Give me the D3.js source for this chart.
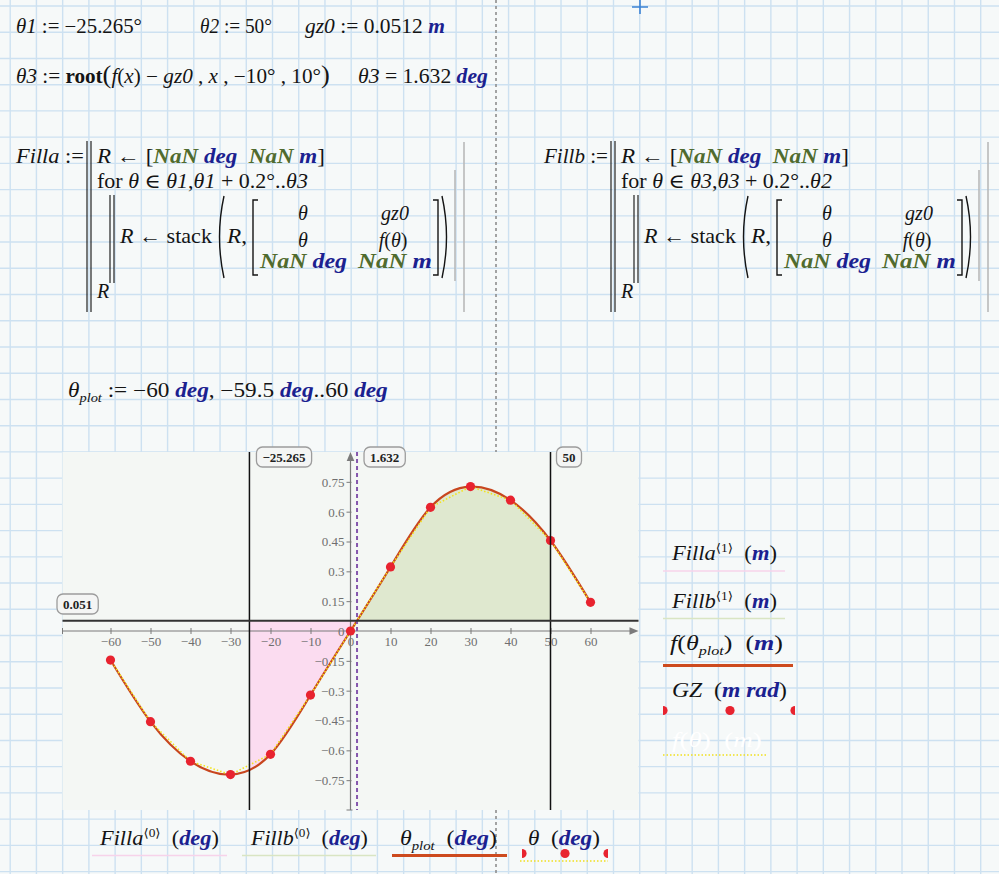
<!DOCTYPE html>
<html><head><meta charset="utf-8">
<script src="https://cdn.jsdelivr.net/npm/d3@7"></script>
<style>
html,body{margin:0;padding:0;background:#f6f9f9;}
svg{display:block;}
text{white-space:pre;font-family:'Liberation Serif','DejaVu Serif','Times New Roman',serif;}
</style></head><body>
<svg id="c" width="999" height="874"></svg>
<script>
// ---------------- data ----------------
const theta1 = -25.265, theta2 = 50, theta3 = 1.632, gz0 = 0.0512;
const gzTheta = [-60, -50, -40, -30, -20, -10, 0, 10, 20, 30, 40, 50, 60];
const gzValue = [-0.146, -0.456, -0.655, -0.722, -0.62, -0.322, 0.0, 0.322, 0.622, 0.726, 0.658, 0.455, 0.144];
const xTicks = [-60, -50, -40, -30, -20, -10, 0, 10, 20, 30, 40, 50, 60];
const xTickLabels = ['−60', '−50', '−40', '−30', '−20', '−10', '0', '10', '20', '30', '40', '50', '60'];
const yTicks = [-0.75, -0.6, -0.45, -0.3, -0.15, 0, 0.15, 0.3, 0.45, 0.6, 0.75];
const yTickLabels = ['−0.75', '−0.6', '−0.45', '−0.3', '−0.15', '0', '0.15', '0.3', '0.45', '0.6', '0.75'];
const xDomain = [-72, 72], yDomain = [-0.9, 0.9];
const markerLabels = ['−25.265', '1.632', '50'];
const gzLabel = '0.051';

// ---------------- page ----------------
const svg = d3.select('#c');
svg.append('rect').attr('width', 999).attr('height', 874).attr('fill', '#f6f9f9');
const grid = svg.append('g').attr('stroke', '#cde1f1').attr('stroke-width', 1.4);
for (let gx = 10.2; gx < 999; gx += 26.23) grid.append('line').attr('x1', gx).attr('x2', gx).attr('y1', 0).attr('y2', 874);
for (let gy = 6; gy < 874; gy += 26.23) grid.append('line').attr('y1', gy).attr('y2', gy).attr('x1', 0).attr('x2', 999);
// page divider
svg.append('line').attr('x1', 496).attr('x2', 496).attr('y1', 0).attr('y2', 874)
  .attr('stroke', '#8e8e8e').attr('stroke-width', 1.6).attr('stroke-dasharray', '3,3');
// cursor cross
svg.append('path').attr('d', 'M632,7H648M640,0V14').attr('stroke', '#3b82d4').attr('stroke-width', 1.6).attr('fill', 'none');

// ---------------- math text helper ----------------
const FS = 20;
const FONT = "'Liberation Serif','DejaVu Serif','Times New Roman',serif";
const sty = {
  v: {fs: 'italic', fw: 'normal', fill: '#141414'},
  n: {fs: 'normal', fw: 'normal', fill: '#141414'},
  b: {fs: 'normal', fw: 'bold', fill: '#141414'},
  u: {fs: 'italic', fw: 'bold', fill: '#1b2190'},
  g: {fs: 'italic', fw: 'bold', fill: '#506b2e'},
  sub: {fs: 'italic', fw: 'normal', fill: '#141414', size: 0.62, dy: 5},
  sup: {fs: 'normal', fw: 'normal', fill: '#141414', size: 0.6, dy: -8},
  P: {fs: 'normal', fw: 'normal', fill: '#141414', size: 1.25}
};
// draws a math expression; when a target width w is given the run is scaled horizontally to fit it
function T(g, x, y, parts, w, opt = {}) {
  const size = opt.size || FS;
  const t = g.append('text').attr('x', 0).attr('y', 0).style('font-family', FONT).style('font-size', size + 'px');
  if (opt.anchor) t.attr('text-anchor', opt.anchor);
  let off = 0;
  parts.forEach(([s, c]) => {
    const st = sty[c];
    const dy = (st.dy || 0) - off; off = st.dy || 0;
    const ts = t.append('tspan').text(s).style('font-style', st.fs).style('font-weight', st.fw)
      .attr('fill', opt.fill || st.fill);
    if (st.size) ts.style('font-size', (size * st.size) + 'px');
    if (dy) ts.attr('dy', dy);
  });
  let sx = 1;
  if (w) {
    const nat = t.node().getComputedTextLength();
    if (nat > 0) sx = Math.max(0.8, Math.min(1.35, w / nat));
  }
  t.attr('transform', `translate(${x},${y}) scale(${sx},1)`);
  return t;
}
function paren(g, x, y1, y2, right) {
  const m = (y1 + y2) / 2;
  const d = right ? `M${x},${y1} Q${x + 9},${m} ${x},${y2}` : `M${x},${y1} Q${x - 9},${m} ${x},${y2}`;
  g.append('path').attr('d', d).attr('fill', 'none').attr('stroke', '#141414').attr('stroke-width', 1.4);
}
function bracket(g, x, y1, y2, right) {
  const d = right ? `M${x - 5},${y1}H${x}V${y2}H${x - 5}` : `M${x + 5},${y1}H${x}V${y2}H${x + 5}`;
  g.append('path').attr('d', d).attr('fill', 'none').attr('stroke', '#141414').attr('stroke-width', 1.4);
}
function vline(g, x, y1, y2, col, w) {
  g.append('line').attr('x1', x).attr('x2', x).attr('y1', y1).attr('y2', y2).attr('stroke', col).attr('stroke-width', w);
}

const M = svg.append('g');
// line 1
T(M, 16, 33, [['θ1', 'v'], [' := ', 'n'], ['−25.265°', 'n']], 126);
T(M, 200, 33, [['θ2', 'v'], [' := ', 'n'], ['50°', 'n']], 72);
T(M, 305, 33, [['gz0', 'v'], [' := ', 'n'], ['0.0512 ', 'n'], ['m', 'u']], 140);
// line 2
T(M, 16, 83, [['θ3', 'v'], [' := ', 'n'], ['root', 'b'], ['(', 'P'], ['f', 'v'], ['(', 'n'], ['x', 'v'], [')', 'n'], [' − ', 'n'],
  ['gz0', 'v'], [' , ', 'n'], ['x', 'v'], [' , ', 'n'], ['−10°', 'n'], [' , ', 'n'], ['10°', 'n'], [')', 'P']], 314);
T(M, 358, 83, [['θ3', 'v'], [' = ', 'n'], ['1.632 ', 'n'], ['deg', 'u']], 130);

// program blocks
function block(dx, name, nameW, forParts) {
  const g = M.append('g');
  T(g, 84 + dx - nameW, 163, [[name, 'v'], [' :=', 'n']], nameW);
  vline(g, 87 + dx, 141, 312, '#222', 1.2);
  vline(g, 91 + dx, 141, 312, '#222', 1.2);
  T(g, 97 + dx, 163, [['R', 'v'], [' ← ', 'n'], ['[', 'n'], ['NaN ', 'g'], ['deg', 'u'], ['  NaN ', 'g'], ['m', 'u'], [']', 'n']], 228);
  T(g, 97 + dx, 188, forParts, 211);
  vline(g, 110 + dx, 195, 283, '#222', 1.2);
  vline(g, 114 + dx, 195, 283, '#222', 1.2);
  T(g, 120 + dx, 243, [['R', 'v'], [' ← ', 'n'], ['stack', 'n']], 92);
  paren(g, 224 + dx, 196, 278, false);
  T(g, 227 + dx, 243, [['R', 'v'], [',', 'n']], 20);
  bracket(g, 253 + dx, 200, 275, false);
  T(g, 303 + dx, 220, [['θ', 'v']], null, {anchor: 'middle'});
  T(g, 395 + dx, 220, [['gz0', 'v']], null, {anchor: 'middle'});
  T(g, 303 + dx, 247, [['θ', 'v']], null, {anchor: 'middle'});
  T(g, 393 + dx, 247, [['f', 'v'], ['(', 'n'], ['θ', 'v'], [')', 'n']], null, {anchor: 'middle'});
  T(g, 260 + dx, 268, [['NaN ', 'g'], ['deg', 'u']], 87);
  T(g, 358 + dx, 268, [['NaN ', 'g'], ['m', 'u']], 74);
  bracket(g, 438 + dx, 200, 275, true);
  paren(g, 442 + dx, 196, 278, true);
  T(g, 97 + dx, 298, [['R', 'v']]);
  vline(g, 455 + dx, 170, 281, '#b9b9b9', 1.6);
  vline(g, 464 + dx, 142, 312, '#b9b9b9', 1.6);
}
block(0, 'Filla', 68, [['for ', 'n'], ['θ', 'v'], [' ∈ ', 'n'], ['θ1', 'v'], [',', 'n'], ['θ1', 'v'], [' + 0.2°..', 'n'], ['θ3', 'v']]);
block(524, 'Fillb', 64, [['for ', 'n'], ['θ', 'v'], [' ∈ ', 'n'], ['θ3', 'v'], [',', 'n'], ['θ3', 'v'], [' + 0.2°..', 'n'], ['θ2', 'v']]);

// theta_plot definition
T(M, 68, 397, [['θ', 'v'], ['plot', 'sub'], [' := ', 'n'], ['−60 ', 'n'], ['deg', 'u'], [', −59.5 ', 'n'], ['deg', 'u'], ['..60 ', 'n'], ['deg', 'u']], 320);

// ---------------- plot ----------------
const x = d3.scaleLinear().domain(xDomain).range([62.5, 638.5]);
const y = d3.scaleLinear().domain(yDomain).range([810, 452]);
const P = svg.append('g');
P.append('rect').attr('x', x(xDomain[0])).attr('y', y(yDomain[1]))
  .attr('width', x(xDomain[1]) - x(xDomain[0])).attr('height', y(yDomain[0]) - y(yDomain[1])).attr('fill', '#f4f7f4');

const pts = gzTheta.map((t, i) => ({t, v: gzValue[i]}));
const defs = svg.append('defs');
function clipX(id, a, b) {
  defs.append('clipPath').attr('id', id).append('rect')
    .attr('x', x(a)).attr('width', x(b) - x(a)).attr('y', y(yDomain[1])).attr('height', y(yDomain[0]) - y(yDomain[1]));
}
clipX('clipA', theta1, theta3);
clipX('clipB', theta3, theta2);
const area = d3.area().x(d => x(d.t)).y0(y(gz0)).y1(d => y(d.v)).curve(d3.curveNatural);
P.append('path').datum(pts).attr('d', area).attr('fill', '#fbdcf0').attr('clip-path', 'url(#clipA)');
P.append('path').datum(pts).attr('d', area).attr('fill', '#dfe8cf').attr('clip-path', 'url(#clipB)');

// axes
const AX = '#7b7b7b';
const gx = P.append('g').attr('transform', `translate(0,${y(0)})`)
  .call(d3.axisBottom(x).tickValues(xTicks).tickFormat((d, i) => xTickLabels[i]).tickSizeOuter(0));
gx.select('.domain').remove();
gx.selectAll('.tick line').attr('y1', -3).attr('y2', 3).attr('stroke', AX);
gx.selectAll('.tick text').attr('y', 15).attr('dy', 0).attr('fill', '#6f6f6f')
  .style('font-family', FONT).style('font-size', '13px');
const gy = P.append('g').attr('transform', `translate(${x(0)},0)`)
  .call(d3.axisLeft(y).tickValues(yTicks).tickFormat((d, i) => yTickLabels[i]).tickSizeOuter(0));
gy.select('.domain').remove();
gy.selectAll('.tick line').attr('x1', -4).attr('x2', 1).attr('stroke', AX);
gy.selectAll('.tick text').attr('x', -6).attr('dy', '0.34em').attr('fill', '#6f6f6f')
  .style('font-family', FONT).style('font-size', '13px');
// axis lines with arrows
P.append('line').attr('x1', x(xDomain[0])).attr('x2', x(xDomain[1]) - 6).attr('y1', y(0)).attr('y2', y(0)).attr('stroke', AX).attr('stroke-width', 1.2);
P.append('path').attr('d', `M${x(xDomain[1])},${y(0)}L${x(xDomain[1]) - 9},${y(0) - 3.8}L${x(xDomain[1]) - 9},${y(0) + 3.8}Z`).attr('fill', AX);
P.append('line').attr('x1', x(xDomain[0])).attr('x2', x(xDomain[0])).attr('y1', y(0) - 3).attr('y2', y(0) + 3).attr('stroke', AX);
P.append('line').attr('x1', x(0)).attr('x2', x(0)).attr('y1', y(yDomain[0])).attr('y2', y(yDomain[1]) + 6).attr('stroke', AX).attr('stroke-width', 1.2);
P.append('path').attr('d', `M${x(0)},${y(yDomain[1])}L${x(0) - 3.8},${y(yDomain[1]) + 9}L${x(0) + 3.8},${y(yDomain[1]) + 9}Z`).attr('fill', AX);
P.append('line').attr('x1', x(0) - 4).attr('x2', x(0) + 2).attr('y1', y(yDomain[0])).attr('y2', y(yDomain[0])).attr('stroke', AX);

// curve f(theta_plot)
const line = d3.line().x(d => x(d.t)).y(d => y(d.v)).curve(d3.curveNatural);
P.append('path').datum(pts).attr('d', line).attr('fill', 'none').attr('stroke', '#c8461e').attr('stroke-width', 2.2);
// theta vs f(theta): yellow dotted
const lin = d3.line().x(d => x(d.t)).y(d => y(d.v));
P.append('path').datum(pts).attr('d', lin).attr('fill', 'none').attr('stroke', '#f3e31c').attr('stroke-width', 1.6).attr('stroke-dasharray', '1.5,2');
// GZ dots
P.selectAll('circle.gz').data(pts).join('circle').attr('class', 'gz')
  .attr('cx', d => x(d.t)).attr('cy', d => y(d.v)).attr('r', 4.6).attr('fill', '#e8232f');

// marker lines
const yTop = y(yDomain[1]), yBot = y(yDomain[0]);
vline(P, x(theta1), yTop, yBot, '#111', 1.5);
vline(P, x(theta2), yTop, yBot, '#111', 1.5);
P.append('line').attr('x1', x(theta3)).attr('x2', x(theta3)).attr('y1', yTop).attr('y2', yBot)
  .attr('stroke', '#8557ad').attr('stroke-width', 2).attr('stroke-dasharray', '4,3');
P.append('line').attr('x1', x(xDomain[0])).attr('x2', x(xDomain[1])).attr('y1', y(gz0)).attr('y2', y(gz0))
  .attr('stroke', '#333').attr('stroke-width', 2);

// value boxes
function vbox(bx, by, label) {
  const t = P.append('text').attr('x', bx + 6).attr('y', by + 14.5).text(label)
    .style('font-family', FONT).style('font-size', '13px').style('font-weight', 'bold').attr('fill', '#222');
  const w = t.node().getComputedTextLength() + 12;
  P.insert('rect', () => t.node()).attr('x', bx).attr('y', by).attr('width', w).attr('height', 20).attr('rx', 6)
    .attr('fill', '#f4f5f4').attr('stroke', '#9c9c9c').attr('stroke-width', 1.3);
}
vbox(x(theta1) + 7, 447, markerLabels[0]);
vbox(x(theta3) + 7, 447, markerLabels[1]);
vbox(x(theta2) + 6, 447, markerLabels[2]);
vbox(57, 594, gzLabel);

// ---------------- legends ----------------
const L = svg.append('g');
function hline(x1, x2, yy, col, w, dash) {
  const l = L.append('line').attr('x1', x1).attr('x2', x2).attr('y1', yy).attr('y2', yy).attr('stroke', col).attr('stroke-width', w);
  if (dash) l.attr('stroke-dasharray', dash);
}
function legendDots(id, x1, x2, yy, xs) {
  defs.append('clipPath').attr('id', id).append('rect').attr('x', x1).attr('width', x2 - x1).attr('y', yy - 6).attr('height', 12);
  const g = L.append('g').attr('clip-path', `url(#${id})`);
  xs.forEach(cx => g.append('circle').attr('cx', cx).attr('cy', yy).attr('r', 4.6).attr('fill', '#e8232f'));
}
// right legend
T(L, 672, 560, [['Filla', 'v'], ['⟨1⟩', 'sup'], ['  (', 'n'], ['m', 'u'], [')', 'n']], 105);
hline(663, 785, 571, '#f7d3ea', 1.5);
T(L, 672, 608, [['Fillb', 'v'], ['⟨1⟩', 'sup'], ['  (', 'n'], ['m', 'u'], [')', 'n']], 105);
hline(663, 785, 618.5, '#d9e5c3', 1.5);
T(L, 670, 650, [['f', 'v'], ['(', 'n'], ['θ', 'v'], ['plot', 'sub'], [')', 'n'], ['  (', 'n'], ['m', 'u'], [')', 'n']], 113);
hline(663, 793, 665.5, '#cd4a1e', 3);
T(L, 672, 697, [['GZ', 'v'], ['  (', 'n'], ['m rad', 'u'], [')', 'n']], 115);
legendDots('ldR', 663, 795, 710.5, [663, 730, 795]);
T(L, 672, 747, [['f', 'v'], ['(', 'n'], ['θ', 'v'], [')  (', 'n'], ['m', 'v'], [')', 'n']], 95, {fill: '#ffffff'});
hline(663, 768, 755, '#f1df1e', 1.5, '1.5,2');

// bottom legend
T(L, 100, 845, [['Filla', 'v'], ['⟨0⟩', 'sup'], ['  (', 'n'], ['deg', 'u'], [')', 'n']], 119);
hline(92, 227, 855.5, '#f7d3ea', 1.5);
T(L, 251, 845, [['Fillb', 'v'], ['⟨0⟩', 'sup'], ['  (', 'n'], ['deg', 'u'], [')', 'n']], 117);
hline(242, 376, 855.5, '#d9e5c3', 1.5);
T(L, 400, 845, [['θ', 'v'], ['plot', 'sub'], ['  (', 'n'], ['deg', 'u'], [')', 'n']], 97);
hline(392, 507, 855.5, '#cd4a1e', 3);
T(L, 528, 845, [['θ', 'v'], ['  (', 'n'], ['deg', 'u'], [')', 'n']], 72);
legendDots('ldB', 522, 608, 853.5, [522, 565, 608]);
hline(520, 608, 861, '#f1df1e', 1.5, '1.5,2');
</script>
</body></html>
